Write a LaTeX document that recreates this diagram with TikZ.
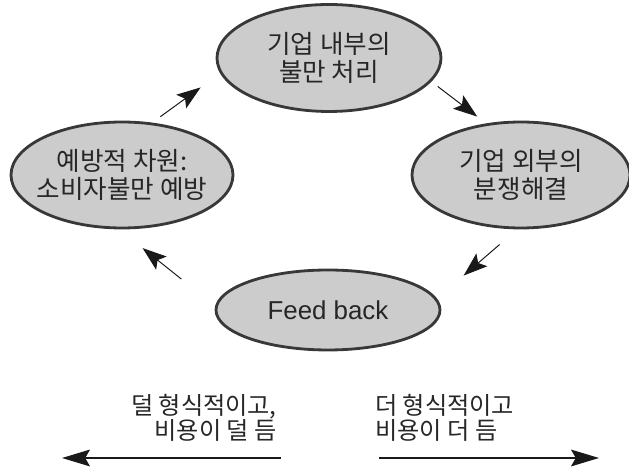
\documentclass[tikz,border=0pt]{standalone}
\usepackage{fontspec}
\setmainfont{Noto Sans CJK KR}
\newfontfamily\latinfont{Liberation Sans}
\usetikzlibrary{shapes.geometric,arrows.meta,positioning}

\begin{document}
\begin{tikzpicture}[
  stage/.style={shape=ellipse,draw=cdraw,fill=cfill,line width=2pt,inner sep=0pt},
  stagetext/.style={text=ctext,align=center,font=\fontsize{18.2pt}{20pt}\selectfont},
  flow/.style={draw=carrow,line width=0.7pt,-{Stealth[length=6mm,width=4.2mm,inset=1.2mm]}},
  costtext/.style={text=ctext,inner sep=0pt,font=\fontsize{17.2pt}{17.8pt}\selectfont},
  costline/.style={draw=carrow,line width=1pt,-{Stealth[length=7mm,width=4.2mm,inset=1.2mm]}}]
%
\useasboundingbox (0,0) rectangle (15.725cm,11.725cm);
%
\definecolor{cfill}{rgb}{0.80,0.80,0.80}
\definecolor{cdraw}{rgb}{0.22,0.22,0.22}
\definecolor{ctext}{rgb}{0.15,0.15,0.15}
\definecolor{carrow}{rgb}{0.1,0.1,0.1}
%
\node[stage,minimum width=5.6cm,minimum height=2.675cm,label={[stagetext]center:{기업 내부의\\불만 처리}}] (inner) at (8.225cm,10.275cm) {};
\node[stage,minimum width=5.55cm,minimum height=2.65cm,label={[stagetext]center:{예방적 차원:\\소비자불만 예방}}] (prevent) at (3.05cm,7.35cm) {};
\node[stage,minimum width=5.45cm,minimum height=2.65cm,label={[stagetext]center:{기업 외부의\\분쟁해결}}] (outer) at (13.025cm,7.35cm) {};
\node[stage,minimum width=5.6cm,minimum height=2.0cm,label={[stagetext,font=\latinfont\fontsize{18.4pt}{20pt}\selectfont]center:{Feed back}}] (feedback) at (8.2cm,3.975cm) {};
%
\draw[flow,shorten <=0.25cm,shorten >=0.6cm] (prevent.60) -- (inner.188);
\draw[flow,shorten <=0.2cm,shorten >=0.28cm] (inner.347) -- (outer.124);
\draw[flow,shorten <=0.58cm,shorten >=0.88cm] (outer.266) -- (feedback.6);
\draw[flow,shorten <=1.08cm,shorten >=0.75cm] (feedback.178) -- (prevent.267);
%
\node[costtext,anchor=east,align=right] (lesscost) at (6.925cm,1.275cm) {덜 형식적이고,\\비용이 덜 듬};
\node[costtext,anchor=west,align=left] (morecost) at (9.375cm,1.275cm) {더 형식적이고\\비용이 더 듬};
%
\coordinate (lessstart) at (7.025cm,0.275cm);
\coordinate (lessend) at (1.55cm,0.275cm);
\coordinate (morestart) at (9.475cm,0.275cm);
\coordinate (moreend) at (14.975cm,0.275cm);
\draw[costline] (lessstart) -- (lessend);
\draw[costline] (morestart) -- (moreend);
%
\end{tikzpicture}
\end{document}
